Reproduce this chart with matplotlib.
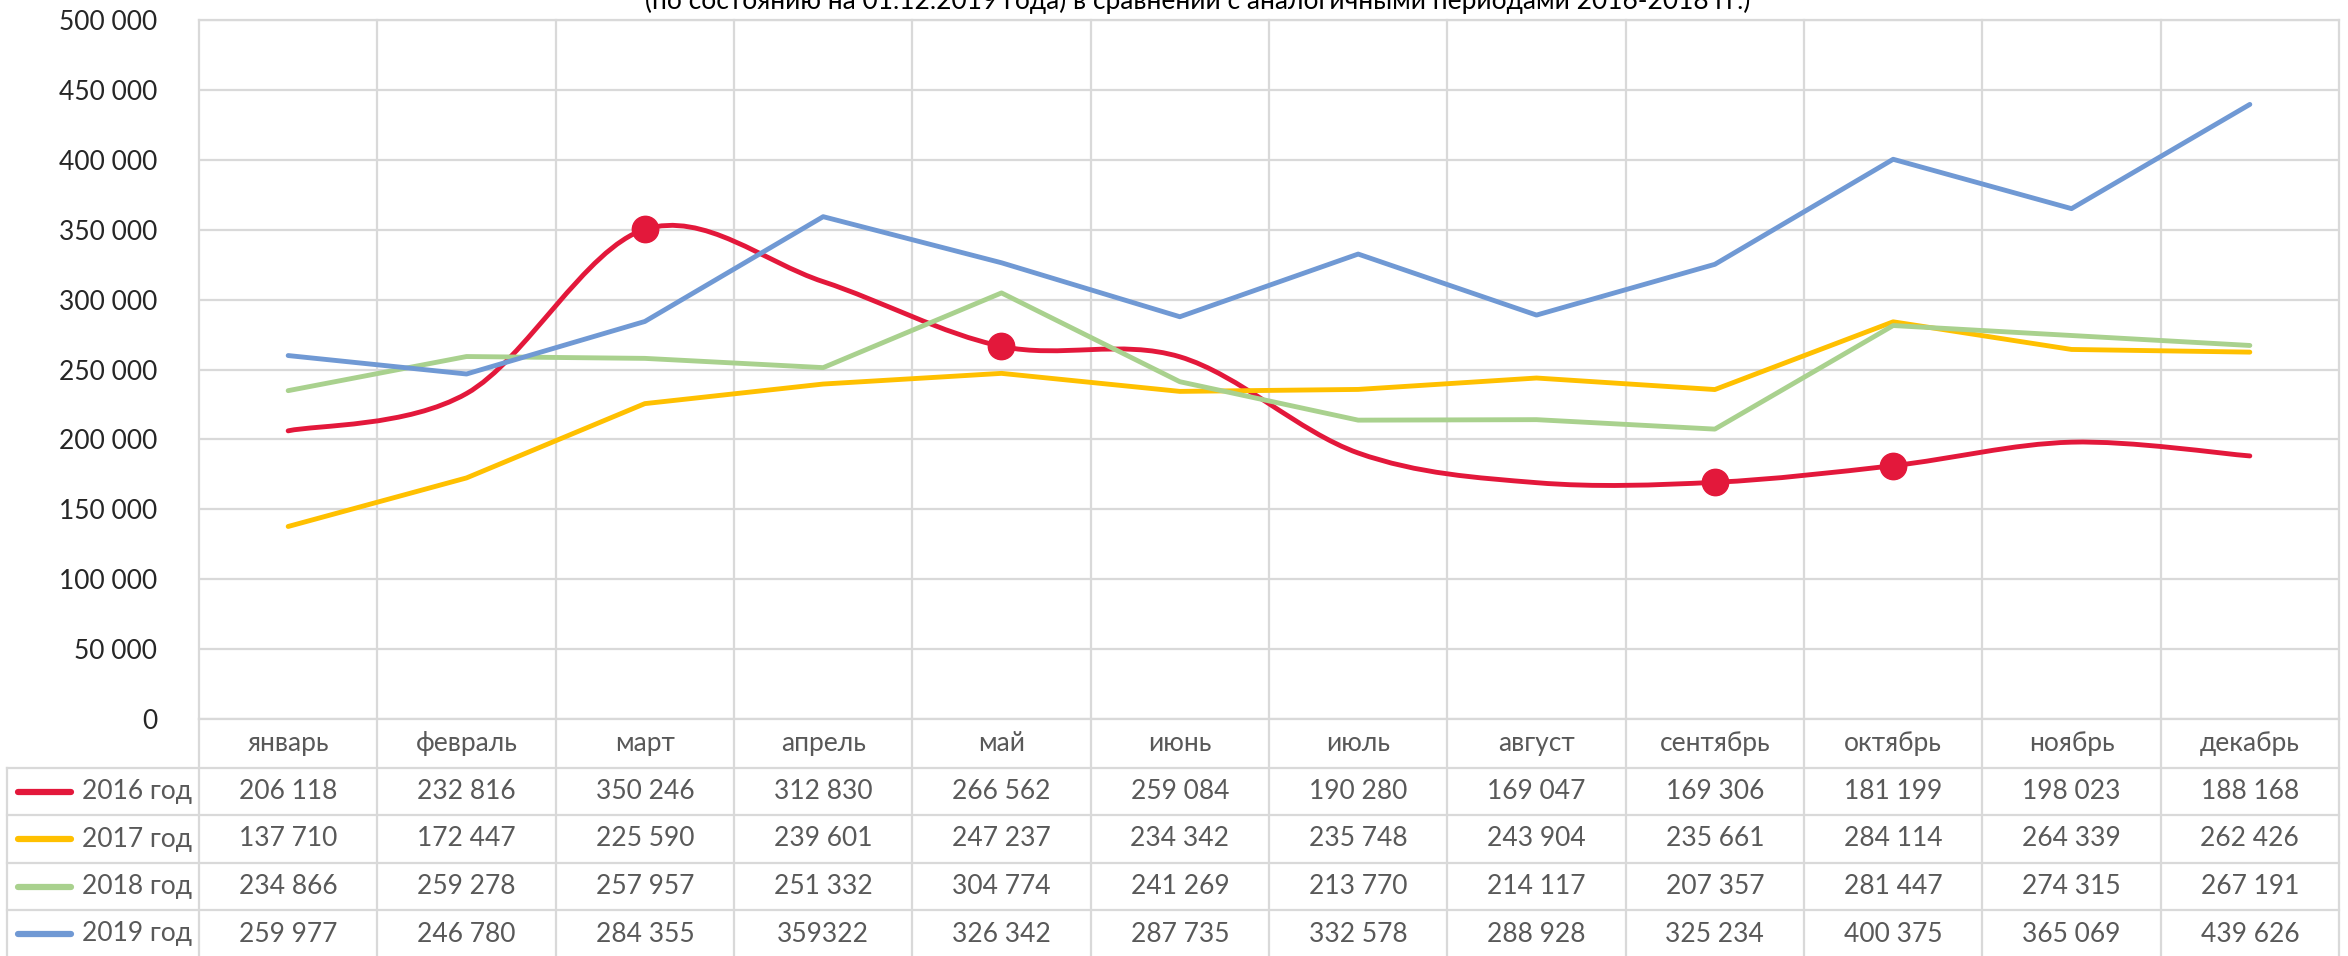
import numpy as np
import matplotlib
matplotlib.use('Agg')
import matplotlib.pyplot as plt
from matplotlib.path import Path
from matplotlib.patches import PathPatch

plt.rcParams['font.family'] = ['Lato', 'DejaVu Sans']

months = ['январь', 'февраль', 'март', 'апрель', 'май', 'июнь',
          'июль', 'август', 'сентябрь', 'октябрь', 'ноябрь', 'декабрь']

v2016 = [206118, 232816, 350246, 312830, 266562, 259084, 190280, 169047, 169306, 181199, 198023, 188168]
v2017 = [137710, 172447, 225590, 239601, 247237, 234342, 235748, 243904, 235661, 284114, 264339, 262426]
v2018 = [234866, 259278, 257957, 251332, 304774, 241269, 213770, 214117, 207357, 281447, 274315, 267191]
v2019 = [259977, 246780, 284355, 359322, 326342, 287735, 332578, 288928, 325234, 400375, 365069, 439626]

names = ['2016 год', '2017 год', '2018 год', '2019 год']
series = [v2016, v2017, v2018, v2019]
colors = ['#E3183B', '#FFC000', '#A9D18E', '#7099D4']

# отмеченные точки на линии 2016 года
marked_2016 = [2, 4, 8, 9]

title = '(по состоянию на 01.12.2019 года) в сравнении с аналогичными периодами 2016-2018 гг.)'

W, H = 2348, 956
grid_c = '#D9D9D9'
txt_c = '#595959'

# геометрия в пикселях
left, right, top, zero = 199, 2339, 20, 719
row_lines = [768, 815, 863, 910, 958]
row_centers = [743.5, 791.5, 839, 886.5, 934]
table_left = 7

fig = plt.figure(figsize=(W/100, H/100), dpi=100)
fig.patch.set_facecolor('white')
ax = fig.add_axes([left/W, 1-zero/H, (right-left)/W, (zero-top)/H])

def yf(py):
    return (zero - py) / (zero - top)

def xd(px):
    return (px - left) / ((right - left) / 12)

def fmt(v):
    return f'{v:,}'.replace(',', ' ')

x = np.arange(12) + 0.5

def smooth_path(xs, ys):
    pts = np.column_stack([xs, ys]).astype(float)
    n = len(pts)
    verts = [pts[0]]
    codes = [Path.MOVETO]
    for i in range(n-1):
        p0 = pts[max(i-1, 0)]
        p1 = pts[i]
        p2 = pts[i+1]
        p3 = pts[min(i+2, n-1)]
        verts += [p1 + (p2-p0)/6, p2 - (p3-p1)/6, p2]
        codes += [Path.CURVE4]*3
    return Path(verts, codes)

# 2016 - сглаженная линия
ax.add_patch(PathPatch(smooth_path(x, v2016), fill=False, edgecolor=colors[0],
                       lw=3.5, capstyle='round', joinstyle='round', zorder=3))
ax.plot(x[marked_2016], np.array(v2016)[marked_2016], 'o', color=colors[0],
        ms=19, zorder=6, mec=colors[0])
for vals, c, z in zip(series[1:], colors[1:], [4, 4, 5]):
    ax.plot(x, vals, color=c, lw=3.5, solid_capstyle='round', zorder=z)

ax.set_xlim(0, 12)
ax.set_ylim(0, 500000)
ax.set_yticks(np.arange(0, 500001, 50000))
ax.set_yticklabels([fmt(t) for t in np.arange(0, 500001, 50000)])
ax.tick_params(axis='y', length=0, pad=30, labelsize=19, labelcolor='#262626')
ax.set_xticks([])
ax.grid(axis='y', color=grid_c, lw=1.6)
ax.set_axisbelow(True)
for s in ax.spines.values():
    s.set_color(grid_c)
    s.set_linewidth(1.6)

xt = ax.get_xaxis_transform()

# вертикальные линии через график и таблицу
for i in range(1, 12):
    ax.plot([i, i], [yf(H+10), 1], color=grid_c, lw=1.6, transform=xt, clip_on=False, zorder=1)
ax.plot([0, 0], [yf(H+10), 0], color=grid_c, lw=1.6, transform=xt, clip_on=False)
ax.plot([12, 12], [yf(H+10), 0], color=grid_c, lw=1.6, transform=xt, clip_on=False)
ax.plot([xd(table_left)]*2, [yf(H+10), yf(row_lines[0])], color=grid_c, lw=1.6,
        transform=xt, clip_on=False)
for py in row_lines:
    ax.plot([xd(table_left), 12], [yf(py)]*2, color=grid_c, lw=1.6, transform=xt, clip_on=False)

# подписи месяцев
for xi, m in zip(x, months):
    ax.text(xi, yf(row_centers[0]), m, ha='center', va='center', fontsize=19,
            color=txt_c, transform=xt, clip_on=False)

# строки таблицы
for r, (nm, vals, c) in enumerate(zip(names, series, colors)):
    yc = yf(row_centers[r+1])
    labels = [fmt(v) for v in vals]
    if nm == '2019 год':
        labels[3] = str(vals[3])  # в исходнике без пробела
    for xi, lab in zip(x, labels):
        ax.text(xi, yc, lab, ha='center', va='center', fontsize=19, color=txt_c,
                transform=xt, clip_on=False)
    ax.plot([xd(18), xd(71)], [yc, yc], color=c, lw=4.5, solid_capstyle='round',
            transform=xt, clip_on=False)
    ax.text(xd(192), yc, nm, ha='right', va='center', fontsize=19, color=txt_c,
            transform=xt, clip_on=False)

# заголовок обрезан сверху, как в исходнике
fig.text(1198/W, 1-9/H, title, ha='center', va='baseline', fontsize=19, color='black')

fig.savefig('out.png', dpi=100)
